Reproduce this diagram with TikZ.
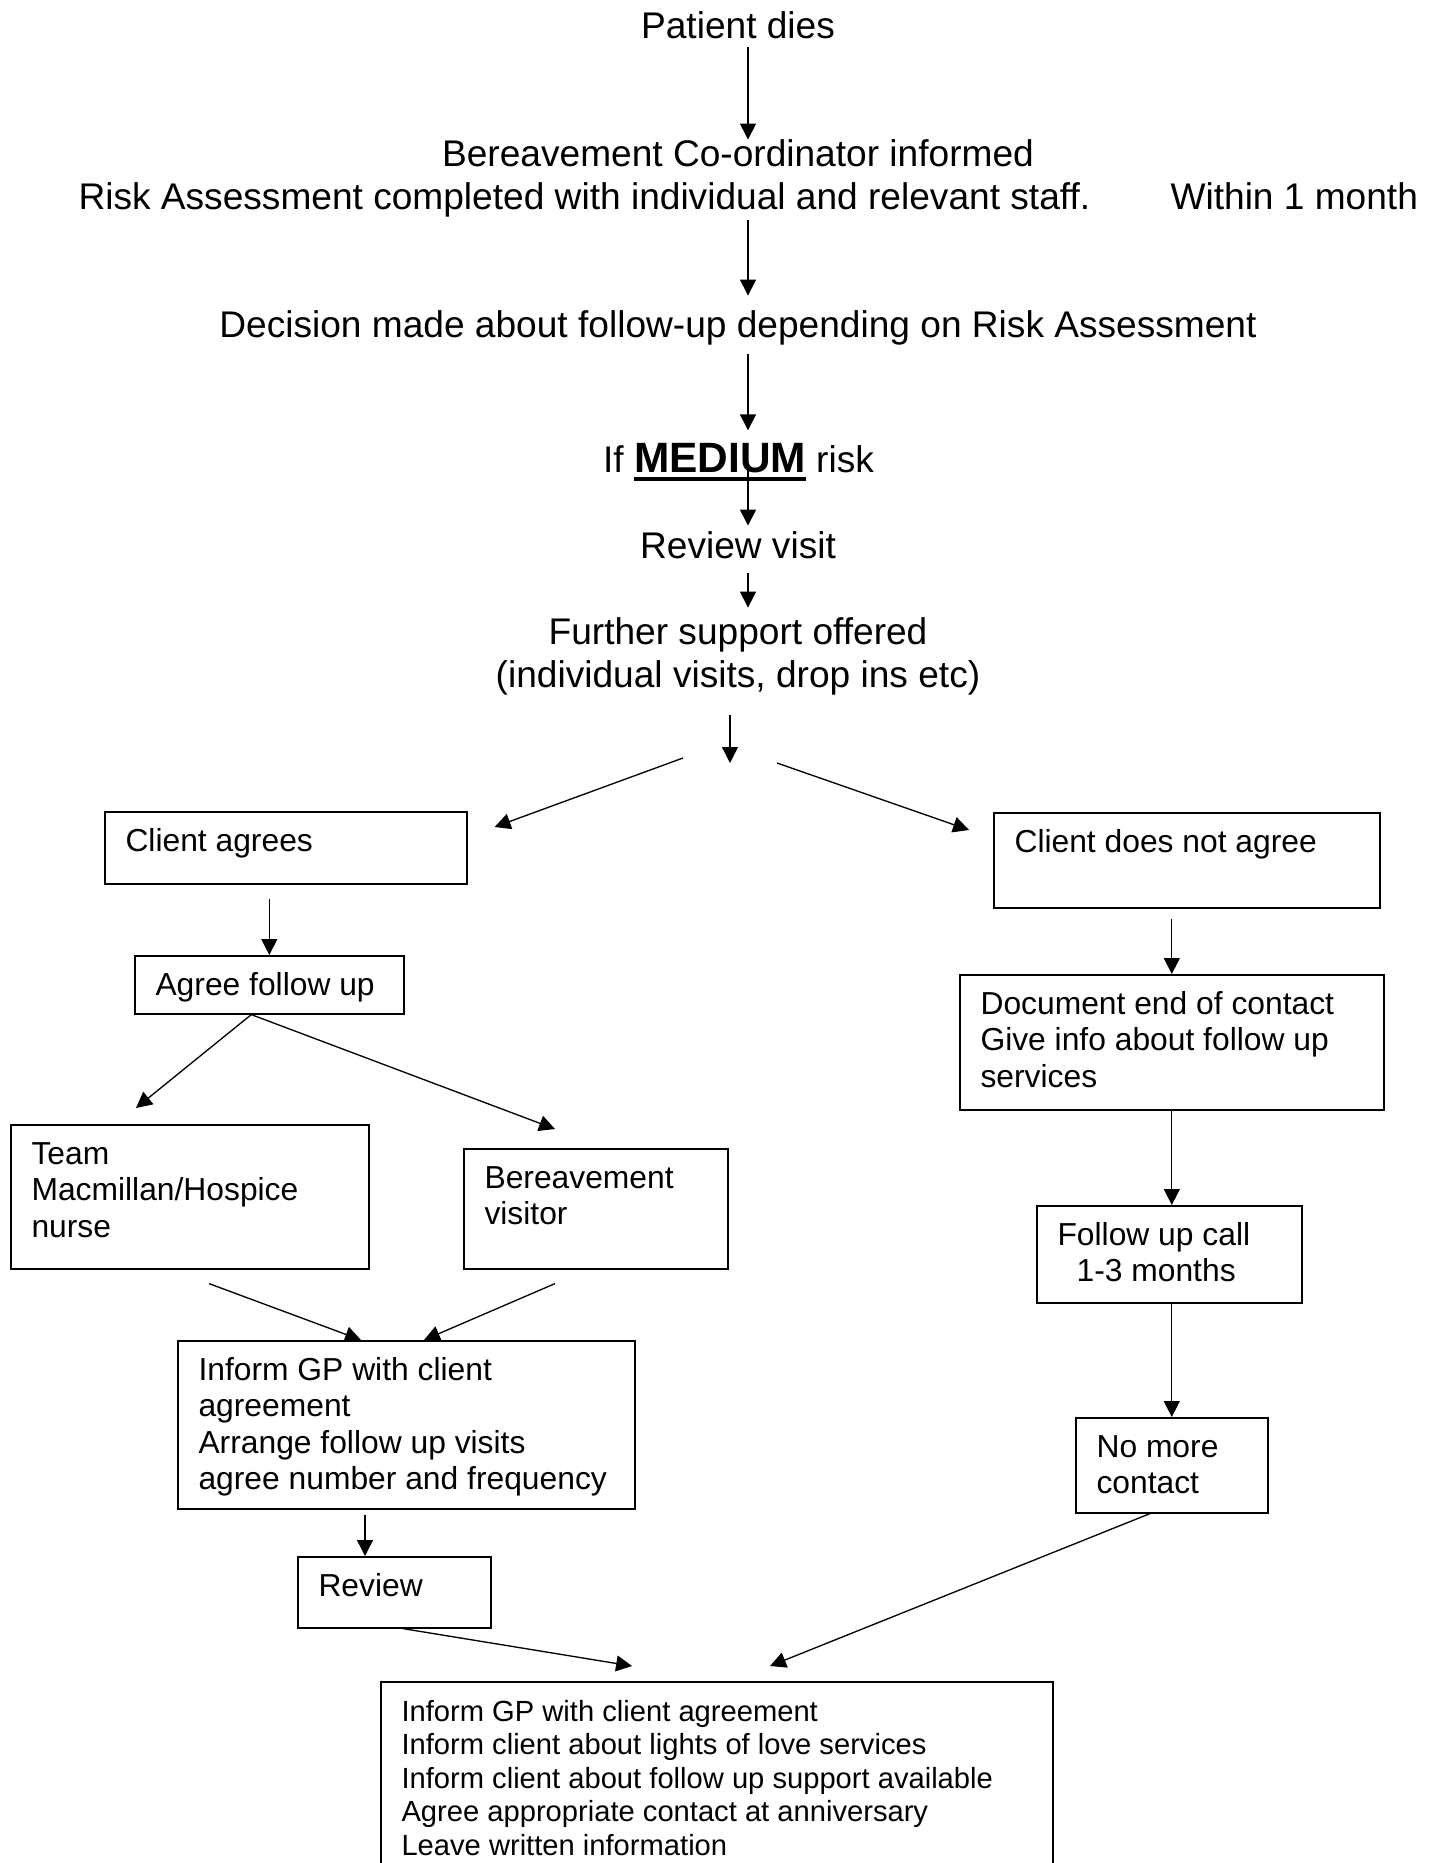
\documentclass[tikz,border=0pt]{standalone}
\usepackage{fontspec}
\setmainfont{Liberation Sans}
\usetikzlibrary{calc}
\usetikzlibrary{arrows.meta}

\def\px{0.37736pt}
\newcommand\lines[2][l]{\begin{tabular}[t]{@{}#1@{}}#2\end{tabular}}
\newcommand\heavyul[1]{\vtop{\hbox{#1}\kern1.5pt\hrule height 1.5pt}}
\newcommand\flowbox[6][boxtext]{
    \node[flow, minimum width={#4*\px}, minimum height={#5*\px}] (#2) at (#3) {};
    \node[#1] (#2-t) at ($(#2.north west) + (21,40)$) {\lines{#6}};
}

\begin{document}
\begin{tikzpicture}[
        x=\px, y=-\px,
        flow/.style={draw, line width=0.6pt, anchor=north west, inner sep=0pt},
        boxtext/.style={anchor=base west, inner sep=0pt, font=\fontsize{12}{13.8}\selectfont},
        smalltext/.style={boxtext, font=\fontsize{11}{12.65}\selectfont},
        maintext/.style={anchor=base, inner sep=0pt, font=\fontsize{14}{16.1}\selectfont},
        arr/.style={-{Triangle[length=6pt, width=6pt]}, line width=0.5pt}
    ]
    \useasboundingbox (0,0) rectangle (1436,1863);
    \coordinate (spine) at (748,0);

    \node[maintext] (dies) at (738,39) {Patient dies};
    \node[maintext] (informed) at (738,167) {Bereavement Co-ordinator informed};
    \node[maintext, anchor=base west] (risk) at (78,210) {Risk Assessment completed with individual and relevant staff.};
    \node[maintext, anchor=base west] (within) at (1170,210) {Within 1 month};
    \node[maintext] (decision) at (738,338) {Decision made about follow-up depending on Risk Assessment};
    \node[maintext] (medium) at (738.5,473) {If {\fontsize{16}{18}\selectfont\heavyul{\textbf{MEDIUM}}} risk};
    \node[maintext] (rvisit) at (738,559) {Review visit};
    \node[maintext] (support) at (738,645) {\lines[c]{Further support offered\\(individual visits, drop ins etc)}};

    \flowbox{agrees}{104,811}{362}{72}{Client agrees}
    \flowbox{disagree}{993,812}{386}{95}{Client does not agree}
    \flowbox{followup}{134,955}{269}{58}{Agree follow up}
    \flowbox{endnote}{959,974}{424}{135}{Document end of contact\\Give info about follow up\\services}
    \flowbox{team}{10,1124}{358}{144}{Team\\Macmillan/Hospice\\nurse}
    \flowbox{visitor}{463,1148}{264}{120}{Bereavement\\visitor}
    \flowbox{call}{1036,1205}{265}{97}{Follow up call\\\hspace*{7.2pt}1-3 months}
    \flowbox{gpinfo}{177,1340}{457}{168}{Inform GP with client\\agreement\\Arrange follow up visits\\agree number and frequency}
    \flowbox{nocontact}{1075,1417}{192}{95}{No more\\contact}
    \flowbox{review}{297,1556}{193}{71}{Review}
    \flowbox[smalltext]{final}{380,1681}{672}{200}{Inform GP with client agreement\\Inform client about lights of love services\\Inform client about follow up support available\\Agree appropriate contact at anniversary\\Leave written information}

    \draw[arr] ($(dies.south -| spine)+(0,7)$) -- (informed.north -| spine);
    \draw[arr] ($(risk.south -| spine)+(0,2)$) -- ($(decision.north -| spine)+(0,-15)$);
    \draw[arr] ($(decision.south -| spine)+(0,8)$) -- ($(medium.north -| spine)+(0,-13)$);
    \draw[arr] (medium.center -| spine) -- ($(rvisit.north -| spine)+(0,-6)$);
    \draw[arr] ($(rvisit.south -| spine)+(0,13)$) -- ($(support.north -| spine)+(0,-7)$);

    \coordinate (fork) at (730,763);
    \coordinate (splitL) at (683,758);
    \coordinate (splitR) at (777,763);
    \draw[arr] ($(support.south -| fork)+(0,14)$) -- (fork);
    \draw[arr] (splitL) -- ($(agrees.north east)+(27,16)$);
    \draw[arr] (splitR) -- ($(disagree.north west)+(-24,18)$);

    \draw[arr] ($(agrees.south -| followup.north)+(0,14)$) -- (followup.north);
    \coordinate (branch) at ($(followup.south)+(-18,0)$);
    \draw[arr] (branch) -- ($(team.north west)+(126,-16)$);
    \draw[arr] (branch) -- ($(visitor.north west)+(92,-19)$);
    \draw[arr] ($(team.south west)+(199,14)$) -- ($(gpinfo.north west)+(184,0)$);
    \draw[arr] ($(visitor.south west)+(92,14)$) -- ($(gpinfo.north west)+(247,0)$);
    \draw[arr] ($(gpinfo.south west)+(188,5)$) -- ($(review.north west)+(68,0)$);
    \draw[arr] ($(review.south west)+(106,0)$) -- ($(final.north west)+(252,-15)$);

    \draw[arr] ($(disagree.south -| endnote.north)+(0,10)$) -- (endnote.north);
    \draw[arr] (endnote.south) -- (endnote.south |- call.north);
    \draw[arr] (nocontact.north |- call.south) -- (nocontact.north);
    \draw[arr] ($(nocontact.south west)+(75,0)$) -- ($(final.north west)+(390,-15)$);
\end{tikzpicture}
\end{document}
